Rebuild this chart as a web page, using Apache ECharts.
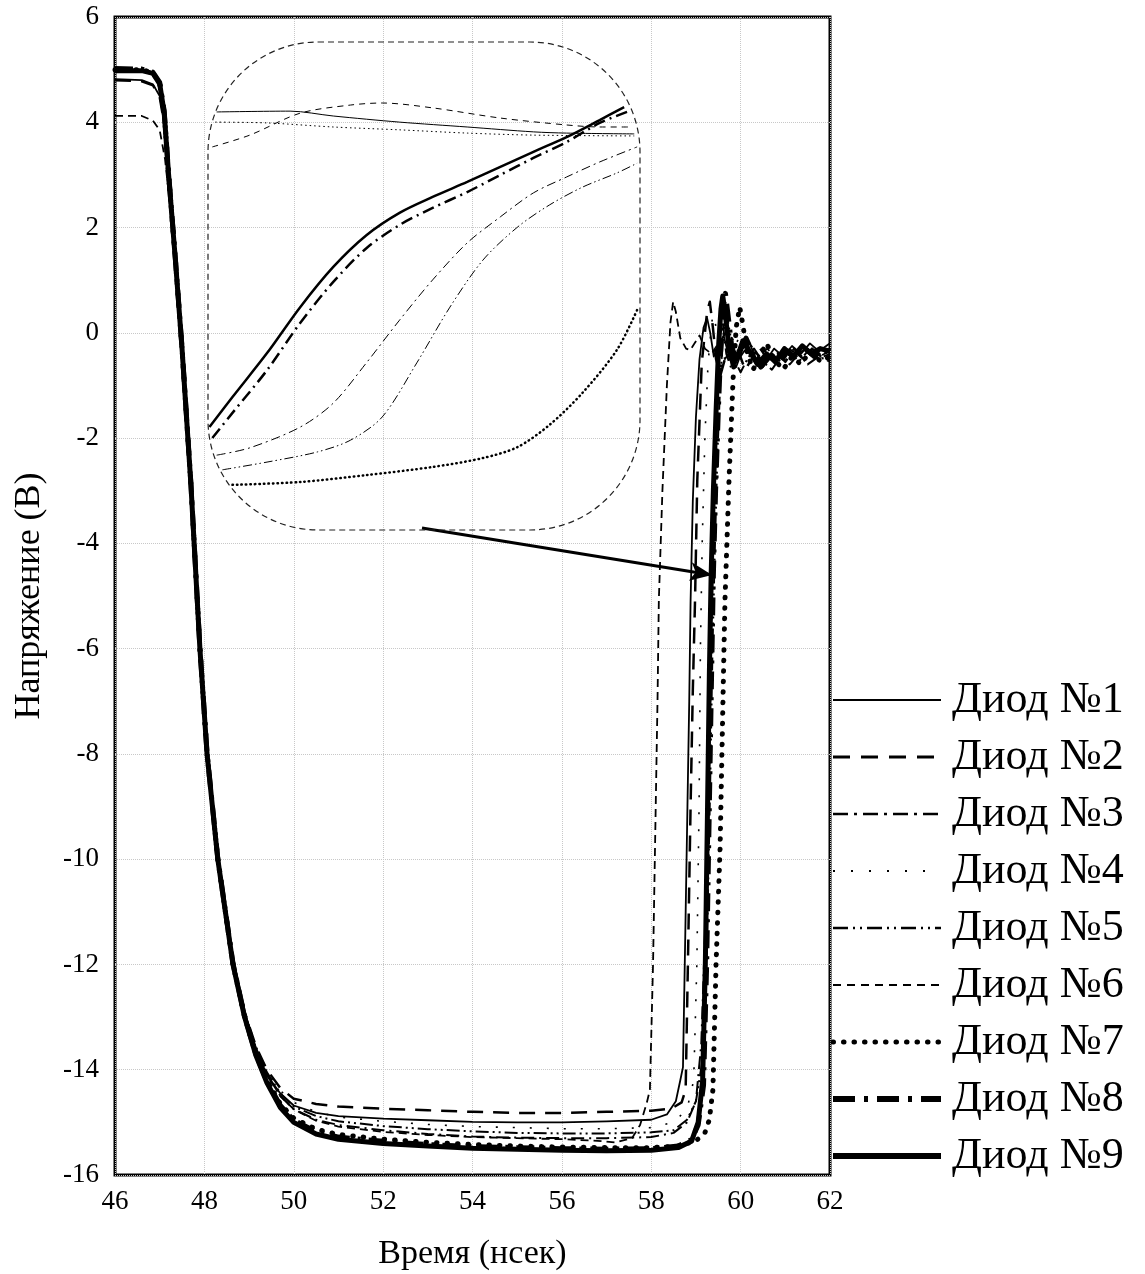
<!DOCTYPE html>
<html>
<head>
<meta charset="utf-8">
<script src="https://cdn.jsdelivr.net/npm/echarts@6/dist/echarts.min.js"></script>
<style>
html,body{margin:0;padding:0;background:#fff;}
#chart{width:1145px;height:1274px;}
</style>
</head>
<body>
<div id="chart"></div>
<script>
// ---------- data ----------
const seriesNames = ['Диод №1','Диод №2','Диод №3','Диод №4','Диод №5','Диод №6','Диод №7','Диод №8','Диод №9'];
const xTicks = [46,48,50,52,54,56,58,60,62];
const yTicks = [-16,-14,-12,-10,-8,-6,-4,-2,0,2,4,6];

const d1 = [[46,4.82],[46.6,4.8],[46.85,4.72],[47.0,4.5],[47.1,4.0],[47.2,3.0],[47.35,1.4],[47.5,-0.2],[47.7,-2.8],[47.9,-5.9],[48.06,-7.9],[48.3,-9.9],[48.64,-11.9],[48.9,-12.9],[49.15,-13.6],[49.4,-14.1],[49.7,-14.45],[50,-14.68],[50.5,-14.82],[51,-14.88],[52,-14.93],[53,-14.96],[54,-14.99],[55,-15.0],[56,-15.0],[57,-14.98],[58,-14.95],[58.35,-14.85],[58.55,-14.6],[58.65,-14.2],[58.71,-13.95],[58.76,-11.5],[58.81,-9],[58.85,-7],[58.88,-5.1],[58.93,-3.2],[59.0,-1.6],[59.08,-0.5],[59.17,0.1],[59.25,0.28],[59.32,0.0],[59.4,-0.45],[59.5,-0.25],[59.62,-0.05],[59.75,-0.5],[59.9,-0.65],[60.05,-0.3],[60.2,-0.2],[60.35,-0.5],[60.55,-0.55],[60.75,-0.3],[60.95,-0.45],[61.15,-0.25],[61.35,-0.4],[61.55,-0.2],[61.75,-0.35],[62,-0.2]];
const d2 = [[46,4.8],[46.6,4.78],[46.85,4.7],[47.0,4.48],[47.1,3.98],[47.2,3.0],[47.35,1.4],[47.5,-0.2],[47.7,-2.8],[47.9,-5.9],[48.06,-7.9],[48.3,-9.9],[48.64,-11.9],[48.9,-12.9],[49.15,-13.55],[49.4,-14.0],[49.7,-14.35],[50,-14.55],[50.5,-14.65],[51,-14.7],[52,-14.74],[53,-14.77],[54,-14.8],[55,-14.82],[56,-14.82],[57,-14.8],[58,-14.78],[58.45,-14.74],[58.68,-14.62],[58.77,-14.38],[58.82,-12],[58.88,-9],[58.93,-6.8],[58.98,-5.07],[59.03,-2.8],[59.13,-0.57],[59.25,0.4],[59.31,0.59],[59.38,0.1],[59.45,-0.5],[59.55,-0.8],[59.68,-0.4],[59.8,-0.1],[59.95,-0.35],[60.1,-0.7],[60.25,-0.5],[60.4,-0.25],[60.6,-0.5],[60.8,-0.35],[61.0,-0.55],[61.2,-0.3],[61.4,-0.5],[61.6,-0.3],[61.8,-0.45],[62,-0.3]];
const d3 = [[46,5.0],[46.6,4.98],[46.85,4.92],[47.0,4.72],[47.1,4.2],[47.2,3.0],[47.35,1.4],[47.5,-0.25],[47.7,-2.85],[47.9,-5.95],[48.06,-7.95],[48.3,-9.95],[48.64,-11.95],[48.9,-12.95],[49.15,-13.6],[49.4,-14.1],[49.7,-14.5],[50,-14.75],[50.5,-14.95],[51,-15.05],[52,-15.15],[53,-15.22],[54,-15.27],[55,-15.29],[56,-15.3],[57,-15.3],[58,-15.28],[58.5,-15.2],[58.8,-15.0],[59.0,-14.6],[59.12,-13.5],[59.22,-11],[59.3,-8],[59.35,-5.5],[59.4,-3.5],[59.45,-1.8],[59.5,-0.4],[59.55,0.45],[59.6,0.2],[59.68,-0.4],[59.8,-0.7],[59.95,-0.4],[60.1,-0.15],[60.3,-0.45],[60.5,-0.65],[60.7,-0.4],[60.9,-0.55],[61.1,-0.35],[61.3,-0.55],[61.5,-0.35],[61.7,-0.5],[62,-0.4]];
const d4 = [[46,4.97],[46.6,4.97],[46.85,4.9],[47.0,4.7],[47.1,4.15],[47.2,3.0],[47.35,1.4],[47.5,-0.2],[47.7,-2.8],[47.9,-5.9],[48.06,-7.9],[48.3,-9.9],[48.64,-11.9],[48.9,-12.9],[49.15,-13.55],[49.4,-14.0],[49.7,-14.4],[50,-14.62],[50.5,-14.8],[51,-14.9],[52,-14.98],[53,-15.04],[54,-15.08],[55,-15.1],[56,-15.12],[57,-15.12],[58,-15.1],[58.5,-15.0],[58.8,-14.75],[58.95,-14.2],[59.02,-12],[59.07,-9],[59.1,-6],[59.14,-4],[59.2,-2],[59.27,-0.6],[59.35,0.2],[59.4,0.35],[59.47,0.0],[59.55,-0.45],[59.68,-0.6],[59.82,-0.3],[59.97,-0.1],[60.15,-0.4],[60.35,-0.6],[60.55,-0.35],[60.75,-0.5],[60.95,-0.3],[61.15,-0.5],[61.4,-0.3],[61.65,-0.45],[62,-0.3]];
const d5 = [[46,4.99],[46.6,4.98],[46.85,4.91],[47.0,4.71],[47.1,4.18],[47.2,3.0],[47.35,1.4],[47.5,-0.22],[47.7,-2.82],[47.9,-5.92],[48.06,-7.92],[48.3,-9.92],[48.64,-11.92],[48.9,-12.92],[49.15,-13.58],[49.4,-14.05],[49.7,-14.45],[50,-14.7],[50.5,-14.88],[51,-14.98],[52,-15.07],[53,-15.13],[54,-15.17],[55,-15.2],[56,-15.21],[57,-15.21],[58,-15.19],[58.5,-15.15],[58.8,-14.95],[59.0,-14.6],[59.15,-13.8],[59.25,-11.5],[59.32,-8.5],[59.37,-6],[59.42,-4.2],[59.48,-2.3],[59.55,-0.8],[59.62,0.05],[59.7,0.3],[59.78,-0.1],[59.88,-0.55],[60.0,-0.75],[60.15,-0.5],[60.3,-0.3],[60.5,-0.55],[60.7,-0.7],[60.9,-0.45],[61.1,-0.6],[61.3,-0.4],[61.5,-0.6],[61.75,-0.45],[62,-0.55]];
const d6 = [[46,4.12],[46.6,4.12],[46.85,4.03],[47.0,3.85],[47.12,3.3],[47.22,2.5],[47.35,1.3],[47.5,-0.25],[47.7,-2.85],[47.9,-5.95],[48.06,-7.95],[48.3,-9.95],[48.64,-11.95],[48.9,-12.95],[49.15,-13.6],[49.4,-14.1],[49.7,-14.5],[50,-14.75],[50.5,-14.97],[51,-15.08],[52,-15.18],[53,-15.24],[54,-15.28],[55,-15.3],[56,-15.32],[56.8,-15.35],[57.2,-15.38],[57.57,-15.3],[57.75,-15.05],[57.9,-14.63],[57.97,-14.38],[58.04,-12],[58.1,-9],[58.14,-7],[58.17,-5.07],[58.25,-3],[58.35,-1],[58.43,0.2],[58.49,0.59],[58.55,0.4],[58.65,-0.1],[58.78,-0.3],[58.87,-0.33],[58.97,-0.2],[59.08,-0.05],[59.2,-0.3],[59.35,-0.4],[59.5,-0.2],[59.65,-0.5],[59.8,-0.3],[60.0,-0.45],[60.2,-0.2],[60.4,-0.45],[60.6,-0.3],[60.8,-0.5],[61.0,-0.25],[61.25,-0.4],[61.5,-0.3],[61.75,-0.45],[62,-0.35]];
const d7 = [[46,5.0],[46.6,5.0],[46.85,4.94],[47.0,4.74],[47.1,4.2],[47.2,3.0],[47.35,1.4],[47.5,-0.3],[47.7,-2.9],[47.9,-6.0],[48.06,-8.0],[48.3,-10.0],[48.64,-12.0],[48.9,-13.0],[49.15,-13.7],[49.4,-14.2],[49.7,-14.65],[50,-14.92],[50.5,-15.13],[51,-15.23],[52,-15.32],[53,-15.38],[54,-15.42],[55,-15.45],[56,-15.47],[57,-15.48],[58,-15.48],[58.6,-15.45],[59.0,-15.35],[59.2,-15.2],[59.3,-14.95],[59.38,-14.38],[59.45,-12],[59.54,-9.8],[59.6,-7.2],[59.65,-5.07],[59.74,-2.8],[59.83,-0.9],[59.9,0.1],[59.98,0.49],[60.05,0.15],[60.15,-0.4],[60.28,-0.7],[60.42,-0.45],[60.58,-0.2],[60.75,-0.5],[60.95,-0.7],[61.15,-0.45],[61.35,-0.6],[61.55,-0.35],[61.8,-0.55],[62,-0.45]];
const d8 = [[46,5.02],[46.6,5.01],[46.85,4.95],[47.0,4.76],[47.1,4.22],[47.2,3.02],[47.35,1.42],[47.5,-0.28],[47.7,-2.88],[47.9,-5.98],[48.06,-7.98],[48.3,-9.98],[48.64,-11.98],[48.9,-12.98],[49.15,-13.7],[49.4,-14.22],[49.7,-14.68],[50,-14.96],[50.5,-15.18],[51,-15.28],[52,-15.36],[53,-15.42],[54,-15.46],[55,-15.48],[56,-15.5],[57,-15.51],[58,-15.5],[58.6,-15.45],[58.9,-15.33],[59.05,-15.05],[59.17,-14.3],[59.24,-12],[59.3,-9],[59.35,-6.5],[59.39,-4.6],[59.44,-3],[59.5,-1.5],[59.56,-0.2],[59.61,0.5],[59.66,0.75],[59.71,0.4],[59.8,-0.25],[59.9,-0.55],[60.0,-0.35],[60.12,-0.1],[60.28,-0.4],[60.45,-0.65],[60.65,-0.45],[60.85,-0.6],[61.05,-0.35],[61.25,-0.5],[61.45,-0.3],[61.65,-0.45],[61.85,-0.3],[62,-0.4]];
const d9 = [[46,4.98],[46.6,4.98],[46.85,4.93],[47.0,4.73],[47.1,4.19],[47.2,3.0],[47.35,1.4],[47.5,-0.3],[47.7,-2.9],[47.9,-6.0],[48.06,-8.0],[48.3,-10.0],[48.64,-12.0],[48.9,-13.0],[49.15,-13.72],[49.4,-14.25],[49.7,-14.72],[50,-15.0],[50.5,-15.22],[51,-15.32],[52,-15.4],[53,-15.45],[54,-15.49],[55,-15.51],[56,-15.53],[57,-15.54],[58,-15.53],[58.6,-15.48],[58.9,-15.36],[59.05,-15.0],[59.15,-14.2],[59.21,-12],[59.26,-9],[59.3,-6.5],[59.34,-4.6],[59.39,-3],[59.45,-1.5],[59.51,-0.2],[59.56,0.45],[59.6,0.7],[59.65,0.4],[59.73,-0.2],[59.83,-0.6],[59.93,-0.45],[60.05,-0.15],[60.2,-0.35],[60.38,-0.6],[60.58,-0.4],[60.78,-0.55],[60.98,-0.3],[61.18,-0.45],[61.38,-0.25],[61.58,-0.4],[61.78,-0.3],[62,-0.35]];

// magnified view (inset) of the rising edges
const insetX = [59.2, 59.5];
const insetY = [-5.2, -4.0];
const i1 = [[59.206,-4.172],[59.257,-4.170],[59.287,-4.182],[59.333,-4.197],[59.380,-4.209],[59.426,-4.221],[59.449,-4.224],[59.496,-4.226]];
const i2 = [[59.203,-4.258],[59.229,-4.229],[59.264,-4.175],[59.299,-4.155],[59.321,-4.150],[59.356,-4.162],[59.403,-4.187],[59.449,-4.204],[59.472,-4.209],[59.493,-4.209]];
const i3 = [[59.206,-5.016],[59.229,-4.998],[59.264,-4.947],[59.287,-4.888],[59.310,-4.789],[59.333,-4.684],[59.356,-4.585],[59.380,-4.494],[59.403,-4.430],[59.426,-4.371],[59.449,-4.332],[59.472,-4.295],[59.498,-4.258]];
const i4 = [[59.205,-4.197],[59.241,-4.199],[59.287,-4.209],[59.333,-4.216],[59.380,-4.224],[59.426,-4.229],[59.496,-4.231]];
const i5 = [[59.210,-5.052],[59.241,-5.033],[59.276,-5.008],[59.299,-4.979],[59.321,-4.922],[59.345,-4.789],[59.368,-4.652],[59.391,-4.536],[59.415,-4.455],[59.437,-4.401],[59.460,-4.357],[59.484,-4.322],[59.498,-4.298]];
const i7 = [[59.217,-5.089],[59.264,-5.082],[59.310,-5.065],[59.356,-5.045],[59.391,-5.023],[59.415,-4.996],[59.437,-4.942],[59.460,-4.863],[59.484,-4.757],[59.498,-4.659]];
const i8 = [[59.203,-4.974],[59.217,-4.912],[59.241,-4.807],[59.264,-4.691],[59.287,-4.590],[59.310,-4.507],[59.333,-4.450],[59.356,-4.408],[59.380,-4.369],[59.403,-4.327],[59.426,-4.285],[59.449,-4.246],[59.472,-4.199],[59.491,-4.172]];
const i9 = [[59.201,-4.947],[59.217,-4.873],[59.241,-4.765],[59.264,-4.652],[59.287,-4.553],[59.310,-4.475],[59.333,-4.420],[59.356,-4.381],[59.380,-4.344],[59.403,-4.307],[59.426,-4.270],[59.449,-4.234],[59.472,-4.192],[59.489,-4.160]];

const arrowFrom = [52.87, -3.71];
const arrowTo = [59.36, -4.60];

// ---------- styles ----------
const FONT = 'Liberation Serif';
const styles = [
  {width:1.8, type:'solid'},
  {width:2.5, type:[16,10]},
  {width:2, type:[13,5,2,5]},
  {width:1.6, type:[2,15]},
  {width:2, type:[13,4,2,4,2,4]},
  {width:1.8, type:[8,5]},
  {width:5, type:[0.5,10], cap:'round'},
  {width:5, type:[18,8,3,8]},
  {width:5, type:'solid'}
];
const legendStyles = [
  {lineWidth:2, lineDash:null},
  {lineWidth:3, lineDash:[17,11]},
  {lineWidth:2.5, lineDash:[15,6,3,6]},
  {lineWidth:2, lineDash:[2,16]},
  {lineWidth:2.5, lineDash:[15,5,2,5,2,5]},
  {lineWidth:2, lineDash:[8,6]},
  {lineWidth:5, lineDash:[0.5,10], lineCap:'round'},
  {lineWidth:6, lineDash:[22,9,4,9]},
  {lineWidth:6, lineDash:null}
];
const insetStyles = [
  {width:1, type:'solid'},
  {width:1, type:[6,5]},
  {width:1, type:[9,4,2,4]},
  {width:1, type:[1.5,3]},
  {width:1, type:[9,3,1.5,3,1.5,3]},
  null,
  {width:2.5, type:[0.5,4], cap:'round'},
  {width:2.5, type:[12,5,2,5]},
  {width:2.5, type:'solid'}
];
const mainData = [d1,d2,d3,d4,d5,d6,d7,d8,d9];
const insetData = [i1,i2,i3,i4,i5,null,i7,i8,i9];

const series = [];
mainData.forEach((d,k)=>{
  const s = {
    name: seriesNames[k], type:'line', data:d, symbol:'none', showSymbol:false,
    xAxisIndex:0, yAxisIndex:0, z: 2 + k,
    lineStyle: Object.assign({color:'#000', join:'round'}, styles[k]),
    itemStyle:{color:'#000'},
    emphasis:{disabled:true}
  };
  if (k === 8) {
    s.markLine = {
      silent:true, symbol:['none','arrow'], symbolSize:[14,22],
      lineStyle:{color:'#000', width:3, type:'solid'},
      label:{show:false}, emphasis:{disabled:true},
      data:[[{coord:arrowFrom},{coord:arrowTo}]]
    };
  }
  series.push(s);
});
insetData.forEach((d,k)=>{
  if (!d) return;
  series.push({
    name: 'inset' + (k+1), type:'line', data:d, symbol:'none', showSymbol:false,
    xAxisIndex:1, yAxisIndex:1, z: 20 + k, smooth:0.3,
    lineStyle: Object.assign({color:'#000'}, insetStyles[k]),
    emphasis:{disabled:true}
  });
});

// legend drawn as graphic (line sample + label)
const LEG_X0 = 833, LEG_X1 = 941, LEG_TEXT_X = 952, LEG_Y0 = 700, LEG_DY = 57;
const legendGraphic = [];
seriesNames.forEach((nm,k)=>{
  const y = LEG_Y0 + k*LEG_DY;
  legendGraphic.push({
    type:'line', silent:true, z:60,
    shape:{x1:LEG_X0, y1:y, x2:LEG_X1, y2:y},
    style:Object.assign({stroke:'#000', lineCap:'butt'}, legendStyles[k])
  });
  legendGraphic.push({
    type:'text', silent:true, z:60, x:LEG_TEXT_X, y:y,
    style:{text:nm, fontFamily:FONT, fontSize:44, fill:'#000', verticalAlign:'middle', align:'left'}
  });
});

const chart = echarts.init(document.getElementById('chart'), null, {renderer:'canvas'});
chart.setOption({
  animation:false,
  backgroundColor:'#fff',
  grid:[
    {left:115, top:17, width:715, height:1158, show:true, borderColor:'#000', borderWidth:3, backgroundColor:'transparent', containLabel:false, outerBoundsMode:'none'},
    {left:208, top:42, width:432, height:488, show:false, outerBoundsMode:'none'}
  ],
  xAxis:[
    {type:'value', gridIndex:0, min:xTicks[0], max:xTicks[xTicks.length-1], interval:2,
     name:'Время (нсек)', nameLocation:'middle', nameGap:62,
     nameTextStyle:{fontFamily:FONT, fontSize:34, color:'#000'},
     axisLine:{show:false}, axisTick:{show:false},
     axisLabel:{fontFamily:FONT, fontSize:27, color:'#000', margin:13},
     splitLine:{show:true, lineStyle:{color:'#c8c8c8', type:'dotted', width:1}}},
    {type:'value', gridIndex:1, min:insetX[0], max:insetX[1], show:false, splitLine:{show:false}}
  ],
  yAxis:[
    {type:'value', gridIndex:0, min:yTicks[0], max:yTicks[yTicks.length-1], interval:2,
     name:'Напряжение (В)', nameLocation:'middle', nameGap:67,
     nameTextStyle:{fontFamily:FONT, fontSize:36, color:'#000'},
     axisLine:{show:false}, axisTick:{show:false},
     axisLabel:{fontFamily:FONT, fontSize:27, color:'#000', margin:16},
     splitLine:{show:true, lineStyle:{color:'#c8c8c8', type:'dotted', width:1}}},
    {type:'value', gridIndex:1, min:insetY[0], max:insetY[1], show:false, splitLine:{show:false}}
  ],
  graphic:[
    {type:'rect', shape:{x:208, y:42, width:432, height:488, r:110}, z:50,
     style:{fill:'none', stroke:'#222', lineWidth:1.2, lineDash:[6,4]}, silent:true}
  ].concat(legendGraphic),
  series: series
});
</script>
</body>
</html>
